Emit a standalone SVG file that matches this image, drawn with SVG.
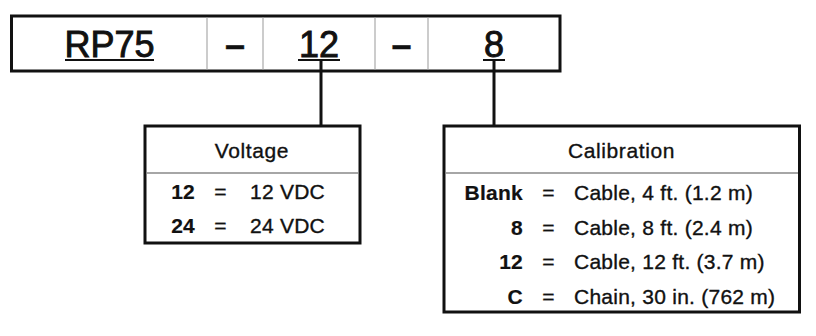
<svg xmlns="http://www.w3.org/2000/svg" width="816" height="336" viewBox="0 0 816 336">
<style>
text{font-family:"Liberation Sans",Arial,Helvetica,sans-serif;fill:#111;stroke:#111;stroke-width:0.35px}
.big{font-size:36px;text-anchor:middle;stroke-width:0.9px}
.dash{font-size:36px;font-weight:bold;text-anchor:middle}
.hdr{font-size:21px;text-anchor:middle;letter-spacing:0.6px}
.row{font-size:21px;letter-spacing:0.25px}
.b{font-weight:bold;text-anchor:end;stroke-width:0.2px}
.eq{text-anchor:middle}
.box{fill:#fff;stroke:#111;stroke-width:3}
.sep{stroke:#aaa;stroke-width:1.2}
.hsep{stroke:#888;stroke-width:1.5}
.ul{stroke:#111;stroke-width:2}
.conn{stroke:#111;stroke-width:3;fill:none}
</style>
<rect width="816" height="336" fill="#fff"/>
<g id="model">
<rect class="box" x="11.5" y="16" width="548.5" height="55"/>
<line class="sep" x1="207" y1="17.5" x2="207" y2="69.5"/>
<line class="sep" x1="263" y1="17.5" x2="263" y2="69.5"/>
<line class="sep" x1="375" y1="17.5" x2="375" y2="69.5"/>
<line class="sep" x1="428" y1="17.5" x2="428" y2="69.5"/>
<text class="big" x="109.5" y="57">RP75</text>
<line class="ul" x1="65" y1="60" x2="154" y2="60"/>
<text class="dash" x="235" y="57">–</text>
<text class="big" x="319" y="57">12</text>
<line class="ul" x1="298" y1="60" x2="340" y2="60"/>
<text class="dash" x="401.5" y="57">–</text>
<text class="big" x="494" y="57">8</text>
<line class="ul" x1="483" y1="60" x2="505" y2="60"/>
</g>
<g id="connectors">
<line class="conn" x1="321" y1="60" x2="321" y2="126"/>
<line class="conn" x1="494" y1="60" x2="494" y2="126"/>
</g>
<g id="voltage">
<rect class="box" x="145" y="126" width="215" height="117"/>
<line class="hsep" x1="146.5" y1="173" x2="358.5" y2="173"/>
<text class="hdr" x="252" y="157.5">Voltage</text>
<text class="row b" x="195" y="199">12</text>
<text class="row eq" x="220.5" y="199">=</text>
<text class="row" x="250" y="199">12 VDC</text>
<text class="row b" x="195" y="233">24</text>
<text class="row eq" x="220.5" y="233">=</text>
<text class="row" x="250" y="233">24 VDC</text>
</g>
<g id="calibration">
<rect class="box" x="444" y="126" width="355.5" height="186"/>
<line class="hsep" x1="445.5" y1="173" x2="798" y2="173"/>
<text class="hdr" x="621.5" y="158">Calibration</text>
<text class="row b" x="523" y="200">Blank</text>
<text class="row eq" x="548.5" y="200">=</text>
<text class="row" x="574" y="200">Cable, 4 ft. (1.2 m)</text>
<text class="row b" x="523" y="234.5">8</text>
<text class="row eq" x="548.5" y="234.5">=</text>
<text class="row" x="574" y="234.5">Cable, 8 ft. (2.4 m)</text>
<text class="row b" x="523" y="269">12</text>
<text class="row eq" x="548.5" y="269">=</text>
<text class="row" x="574" y="269">Cable, 12 ft. (3.7 m)</text>
<text class="row b" x="523" y="303.5">C</text>
<text class="row eq" x="548.5" y="303.5">=</text>
<text class="row" x="574" y="303.5">Chain, 30 in. (762 m)</text>
</g>
</svg>
